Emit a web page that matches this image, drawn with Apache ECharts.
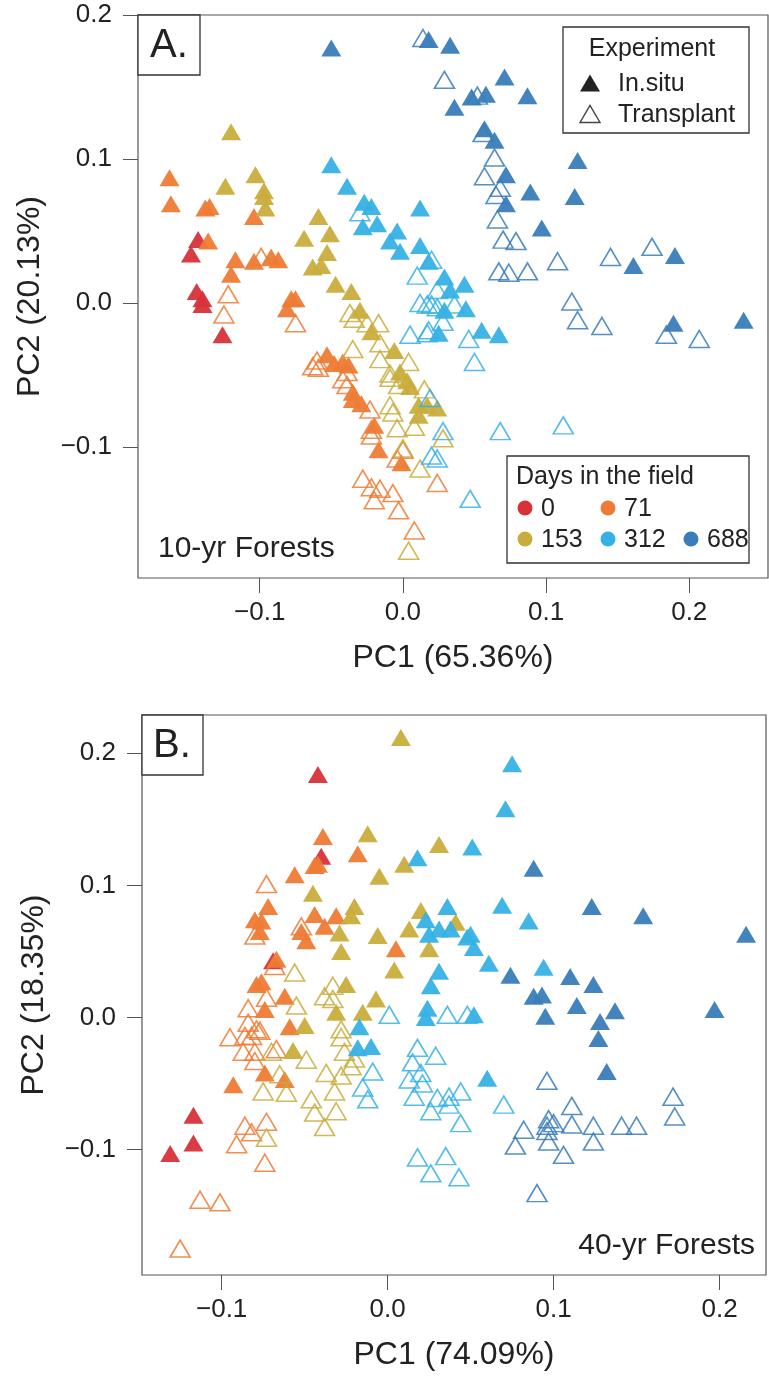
<!DOCTYPE html>
<html>
<head>
<meta charset="utf-8">
<script src="https://cdn.jsdelivr.net/npm/echarts@6/dist/echarts.min.js"></script>
<style>
  html, body { margin: 0; padding: 0; background: #fff; }
  #chart { width: 769px; height: 1383px; }
</style>
</head>
<body>
<div id="chart"></div>
<script>
// Sampling days and their colours
const dayLevels = ['0', '71', '153', '312', '688'];
const dayColors = ['#d7313a', '#ee7b35', '#c9ad3c', '#36b1e5', '#3a7db9'];
const experiments = ['In.situ', 'Transplant'];

// Tick positions
const xTicksA = [-0.1, 0.0, 0.1, 0.2];
const yTicksA = [-0.1, 0.0, 0.1, 0.2];
const xTicksB = [-0.1, 0.0, 0.1, 0.2];
const yTicksB = [-0.1, 0.0, 0.1, 0.2];

// ---- Panel A: 10-yr forests, PC1 / PC2 scores ----
const aDay0InSitu = [[-0.143,0.044],[-0.148,0.034],[-0.144,0.008],[-0.140,0.003],[-0.140,-0.001],[-0.126,-0.022]];
const aDay0Transplant = [];
const aDay71InSitu = [[-0.163,0.087],[-0.162,0.069],[-0.138,0.066],[-0.135,0.067],[-0.104,0.060],[-0.136,0.043],
  [-0.117,0.030],[-0.120,0.020],[-0.104,0.029],[-0.092,0.032],[-0.087,0.030],[-0.078,0.003],[-0.081,-0.004],
  [-0.075,0.003],[-0.053,-0.036],[-0.048,-0.042],[-0.042,-0.041],[-0.038,-0.043],[-0.035,-0.062],[-0.035,-0.067],
  [-0.029,-0.070],[-0.020,-0.085],[-0.017,-0.102],[-0.001,-0.111]];
const aDay71Transplant = [[-0.099,0.032],[-0.122,0.006],[-0.125,-0.008],[-0.075,-0.014],[-0.060,-0.040],[-0.063,-0.044],
  [-0.059,-0.045],[-0.039,-0.048],[-0.042,-0.053],[-0.039,-0.057],[-0.023,-0.074],[-0.022,-0.088],[-0.022,-0.092],
  [0.000,-0.102],[-0.004,-0.108],[-0.028,-0.122],[-0.022,-0.128],[-0.016,-0.129],[-0.020,-0.137],[-0.007,-0.132],
  [-0.003,-0.144],[0.024,-0.125],[0.008,-0.158]];
const aDay153InSitu = [[-0.120,0.119],[-0.124,0.081],[-0.103,0.089],[-0.097,0.078],[-0.097,0.074],[-0.096,0.066],
  [-0.059,0.060],[-0.069,0.045],[-0.051,0.048],[-0.053,0.035],[-0.063,0.025],[-0.057,0.026],[-0.047,0.013],
  [-0.036,0.008],[-0.030,-0.005],[-0.022,-0.020],[-0.006,-0.033],[-0.002,-0.048],[0.003,-0.054],[0.005,-0.058],
  [0.011,-0.071],[0.017,-0.071],[0.024,-0.073],[0.011,-0.078]];
const aDay153Transplant = [[-0.037,-0.007],[-0.034,-0.011],[-0.025,-0.014],[-0.017,-0.014],[-0.016,-0.028],[-0.035,-0.032],
  [-0.016,-0.039],[0.004,-0.041],[-0.009,-0.049],[-0.009,-0.052],[-0.003,-0.057],[-0.009,-0.071],[-0.007,-0.076],
  [-0.004,-0.087],[0.008,-0.086],[0.028,-0.094],[0.000,-0.101],[0.012,-0.115],[0.015,-0.060],[0.004,-0.172]];
const aDay312InSitu = [[-0.050,0.096],[-0.039,0.081],[-0.027,0.070],[-0.022,0.067],[-0.028,0.053],[-0.018,0.055],
  [0.012,0.066],[-0.004,0.050],[-0.009,0.043],[-0.002,0.036],[0.012,0.040],[0.018,0.029],[0.029,0.018],
  [0.043,0.013],[0.033,0.009],[0.029,-0.005],[0.044,-0.004],[0.025,-0.021],[0.055,-0.019],[0.067,-0.022]];
const aDay312Transplant = [[-0.030,0.063],[0.020,0.030],[0.010,0.019],[0.024,0.009],[0.012,0.000],[0.017,-0.001],
  [0.020,-0.001],[0.024,-0.003],[0.036,-0.001],[0.028,-0.013],[0.018,-0.019],[0.005,-0.022],[0.046,-0.025],
  [0.017,-0.021],[0.050,-0.041],[0.019,-0.066],[0.028,-0.089],[0.020,-0.106],[0.024,-0.108],[0.047,-0.136],
  [0.068,-0.089],[0.112,-0.085]];
const aDay688InSitu = [[-0.050,0.177],[0.018,0.183],[0.033,0.179],[0.071,0.157],[0.048,0.143],[0.058,0.145],[0.036,0.136],
  [0.087,0.144],[0.057,0.121],[0.064,0.113],[0.122,0.099],[0.072,0.089],[0.089,0.077],[0.120,0.074],[0.072,0.069],
  [0.097,0.052],[0.161,0.026],[0.190,0.033],[0.189,-0.014],[0.238,-0.012]];
const aDay688Transplant = [[0.014,0.184],[0.052,0.144],[0.056,0.118],[0.029,0.155],[0.064,0.101],[0.057,0.088],
  [0.068,0.080],[0.065,0.075],[0.066,0.058],[0.070,0.044],[0.079,0.043],[0.108,0.029],[0.145,0.032],[0.174,0.039],
  [0.067,0.022],[0.074,0.021],[0.087,0.022],[0.118,0.001],[0.122,-0.012],[0.139,-0.016],[0.184,-0.022],[0.207,-0.025]];

// ---- Panel B: 40-yr forests, PC1 / PC2 scores ----
const bDay0InSitu = [[-0.042,0.184],[-0.040,0.122],[-0.069,0.043],[-0.117,-0.074],[-0.117,-0.095],[-0.131,-0.103]];
const bDay0Transplant = [];
const bDay71InSitu = [[-0.039,0.137],[-0.042,0.116],[-0.044,0.115],[-0.018,0.124],[-0.056,0.108],[-0.072,0.084],
  [-0.080,0.074],[-0.076,0.073],[-0.077,0.065],[-0.044,0.078],[-0.031,0.077],[-0.038,0.069],[-0.052,0.065],
  [-0.049,0.058],[0.005,0.052],[-0.067,0.044],[-0.079,0.025],[-0.076,0.027],[-0.062,0.016],[-0.074,0.006],
  [-0.059,-0.007],[-0.074,-0.042],[-0.062,-0.047],[-0.093,-0.051]];
const bDay71Transplant = [[-0.073,0.101],[-0.080,0.062],[-0.052,0.069],[-0.068,0.039],[-0.073,0.015],[-0.084,0.007],
  [-0.084,-0.004],[-0.079,-0.009],[-0.095,-0.015],[-0.077,-0.010],[-0.086,-0.014],[-0.082,-0.014],[-0.087,-0.026],
  [-0.080,-0.026],[-0.080,-0.033],[-0.067,-0.024],[-0.086,-0.082],[-0.082,-0.087],[-0.091,-0.096],[-0.073,-0.079],
  [-0.074,-0.110],[-0.113,-0.138],[-0.101,-0.140],[-0.125,-0.175]];
const bDay153InSitu = [[0.008,0.212],[-0.012,0.139],[-0.005,0.107],[-0.045,0.094],[-0.020,0.084],[-0.022,0.077],
  [-0.029,0.064],[-0.028,0.050],[-0.006,0.062],[0.004,0.036],[-0.025,0.025],[-0.007,0.014],[-0.031,0.004],
  [-0.015,0.004],[-0.050,-0.006],[-0.057,-0.025],[0.031,0.131],[0.010,0.116],[0.020,0.081],[0.041,0.072],
  [0.013,0.067],[0.025,0.052]];
const bDay153Transplant = [[-0.056,0.034],[-0.055,0.009],[-0.038,0.016],[-0.033,0.024],[-0.033,0.014],[-0.070,-0.026],
  [-0.049,-0.032],[-0.028,-0.009],[-0.028,-0.015],[-0.026,-0.026],[-0.020,-0.031],[-0.022,-0.037],[-0.065,-0.043],
  [-0.075,-0.056],[-0.061,-0.057],[-0.037,-0.042],[-0.028,-0.044],[-0.032,-0.056],[-0.046,-0.062],[-0.044,-0.072],
  [-0.031,-0.071],[-0.038,-0.083],[-0.073,-0.091]];
const bDay312InSitu = [[0.075,0.192],[0.071,0.158],[0.051,0.129],[0.018,0.121],[0.069,0.085],[0.085,0.073],[0.036,0.084],
  [0.023,0.074],[0.031,0.067],[0.038,0.067],[0.025,0.063],[0.048,0.061],[0.050,0.063],[0.052,0.053],[0.061,0.041],
  [0.031,0.035],[0.026,0.024],[0.094,0.038],[0.024,0.007],[0.023,0.000],[0.052,0.002],[-0.017,-0.007],
  [-0.018,-0.023],[-0.010,-0.022],[0.060,-0.046]];
const bDay312Transplant = [[0.001,0.002],[0.036,0.002],[0.048,0.002],[-0.009,-0.041],[-0.015,-0.053],[-0.012,-0.062],
  [0.018,-0.023],[0.029,-0.029],[0.015,-0.034],[0.020,-0.042],[0.013,-0.047],[0.021,-0.050],[0.016,-0.060],
  [0.026,-0.071],[0.030,-0.061],[0.037,-0.060],[0.044,-0.056],[0.037,-0.066],[0.044,-0.080],[0.070,-0.066],
  [0.018,-0.106],[0.035,-0.105],[0.026,-0.118],[0.043,-0.121]];
const bDay688InSitu = [[0.088,0.113],[0.123,0.084],[0.154,0.077],[0.216,0.063],[0.074,0.032],[0.110,0.031],[0.124,0.025],
  [0.088,0.016],[0.093,0.017],[0.114,0.009],[0.137,0.005],[0.197,0.006],[0.095,0.001],[0.128,-0.003],[0.127,-0.016],
  [0.132,-0.041]];
const bDay688Transplant = [[0.096,-0.048],[0.172,-0.060],[0.173,-0.075],[0.111,-0.067],[0.097,-0.077],[0.100,-0.080],
  [0.096,-0.082],[0.096,-0.086],[0.111,-0.081],[0.124,-0.082],[0.141,-0.082],[0.150,-0.082],[0.082,-0.085],
  [0.077,-0.097],[0.097,-0.094],[0.124,-0.094],[0.106,-0.104],[0.090,-0.133]];

const panelA = {
  inSitu: [aDay0InSitu, aDay71InSitu, aDay153InSitu, aDay312InSitu, aDay688InSitu],
  transplant: [aDay0Transplant, aDay71Transplant, aDay153Transplant, aDay312Transplant, aDay688Transplant]
};
const panelB = {
  inSitu: [bDay0InSitu, bDay71InSitu, bDay153InSitu, bDay312InSitu, bDay688InSitu],
  transplant: [bDay0Transplant, bDay71Transplant, bDay153Transplant, bDay312Transplant, bDay688Transplant]
};

const FONT = '"Liberation Sans", Arial, Helvetica, sans-serif';
const INK = '#222';
const FRAME = '#555';
const triSize = [20, 17];

function fmtTick(v) {
  const s = Math.abs(v).toFixed(1);
  return v < -1e-9 ? '\u2212' + s : s;
}

function scatterFor(gridIdx, points, dayIdx, filled) {
  const c = dayColors[dayIdx];
  return {
    type: 'scatter',
    name: dayLevels[dayIdx] + ' ' + experiments[filled ? 0 : 1],
    xAxisIndex: gridIdx,
    yAxisIndex: gridIdx,
    data: points,
    symbol: 'triangle',
    symbolSize: triSize,
    clip: false,
    silent: true,
    itemStyle: filled
      ? { color: c, opacity: 0.95 }
      : { color: 'rgba(255,255,255,0)', borderColor: c, borderWidth: 1.6, opacity: 0.85 }
  };
}

function panelSeries(gridIdx, panel) {
  const out = [];
  for (let d = 0; d < dayLevels.length; d++) {
    out.push(scatterFor(gridIdx, panel.inSitu[d], d, true));
    out.push(scatterFor(gridIdx, panel.transplant[d], d, false));
  }
  return out;
}

function xAxisFor(gridIdx, min, max, ticks, title) {
  return {
    type: 'value', gridIndex: gridIdx, min: min, max: max, position: 'bottom',
    name: title, nameLocation: 'middle', nameGap: 64,
    nameTextStyle: { fontFamily: FONT, fontSize: 32, color: INK },
    axisLine: { show: false, onZero: false },
    splitLine: { show: false },
    axisTick: { show: true, inside: false, length: 15, customValues: ticks, lineStyle: { color: FRAME, width: 1 } },
    axisLabel: { customValues: ticks, formatter: fmtTick, margin: 22, fontFamily: FONT, fontSize: 26, color: INK }
  };
}

function yAxisFor(gridIdx, min, max, ticks, title) {
  return {
    type: 'value', gridIndex: gridIdx, min: min, max: max, position: 'left',
    name: title, nameLocation: 'middle', nameGap: 92, nameRotate: 90,
    nameTextStyle: { fontFamily: FONT, fontSize: 32, color: INK },
    axisLine: { show: false, onZero: false },
    splitLine: { show: false },
    axisTick: { show: true, inside: false, length: 15, customValues: ticks, lineStyle: { color: FRAME, width: 1 } },
    axisLabel: { customValues: ticks, formatter: fmtTick, margin: 26, fontFamily: FONT, fontSize: 26, color: INK }
  };
}

// Legend keys and panel annotations
function txt(x, y, s, size, align) {
  return { type: 'text', x: x, y: y, z: 100,
    style: { text: s, fontFamily: FONT, fontSize: size, fill: INK, align: align || 'left', verticalAlign: 'middle' } };
}
function box(x, y, w, h) {
  return { type: 'rect', z: 90, shape: { x: x, y: y, width: w, height: h },
    style: { fill: '#fff', stroke: '#333', lineWidth: 1.3 } };
}
function tri(cx, cy, filled) {
  return { type: 'polygon', z: 100,
    shape: { points: [[cx - 10, cy + 8.5], [cx + 10, cy + 8.5], [cx, cy - 8.5]] },
    style: filled ? { fill: '#222' } : { fill: 'none', stroke: '#444', lineWidth: 1.4 } };
}
function dot(cx, cy, color) {
  return { type: 'circle', z: 100, shape: { cx: cx, cy: cy, r: 7.5 }, style: { fill: color } };
}

const graphics = [
  // panel A tag
  box(138, 15, 62, 60), txt(169, 46, 'A.', 40, 'center'),
  // experiment legend
  box(563, 27, 186, 106), txt(652, 49, 'Experiment', 25, 'center'),
  tri(590, 83, true), txt(618, 84, experiments[0], 25),
  tri(590, 114, false), txt(618, 115, experiments[1], 25),
  // days legend
  box(507, 456, 242, 107), txt(516, 477, 'Days in the field', 25),
  dot(525, 508, dayColors[0]), txt(541, 509, dayLevels[0], 25),
  dot(608, 508, dayColors[1]), txt(624, 509, dayLevels[1], 25),
  dot(525, 539, dayColors[2]), txt(541, 540, dayLevels[2], 25),
  dot(608, 539, dayColors[3]), txt(624, 540, dayLevels[3], 25),
  dot(691, 539, dayColors[4]), txt(707, 540, dayLevels[4], 25),
  txt(158, 549, '10-yr Forests', 30),
  // panel B tag
  box(142, 715, 61, 60), txt(172, 746, 'B.', 40, 'center'),
  txt(755, 1246, '40-yr Forests', 30, 'right')
];

const option = {
  animation: false,
  backgroundColor: '#fff',
  grid: [
    { left: 138, top: 15, width: 630, height: 563, show: true, borderColor: FRAME, borderWidth: 1.2, backgroundColor: 'transparent' },
    { left: 142, top: 715, width: 624, height: 560, show: true, borderColor: FRAME, borderWidth: 1.2, backgroundColor: 'transparent' }
  ],
  xAxis: [
    xAxisFor(0, -0.185, 0.255, xTicksA, 'PC1 (65.36%)'),
    xAxisFor(1, -0.148, 0.228, xTicksB, 'PC1 (74.09%)')
  ],
  yAxis: [
    yAxisFor(0, -0.191, 0.2, yTicksA, 'PC2 (20.13%)'),
    yAxisFor(1, -0.195, 0.229, yTicksB, 'PC2 (18.35%)')
  ],
  series: panelSeries(0, panelA).concat(panelSeries(1, panelB)),
  graphic: graphics
};

const chart = echarts.init(document.getElementById('chart'), null, { renderer: 'canvas' });
chart.setOption(option);
</script>
</body>
</html>
